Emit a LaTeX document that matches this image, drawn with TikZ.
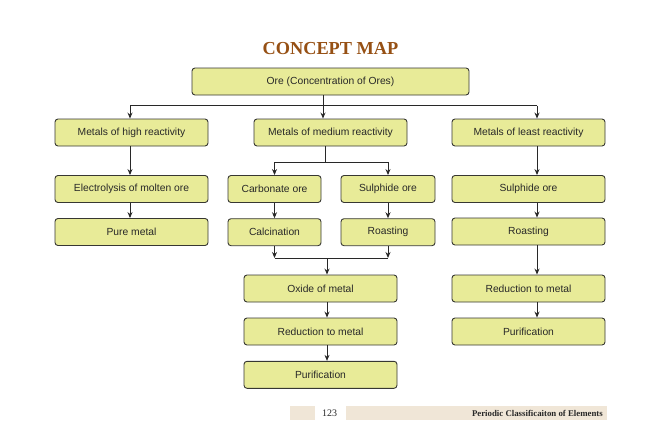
\documentclass[tikz,border=0pt]{standalone}
\usepackage{fontspec}
\setmainfont{Liberation Serif}
\setsansfont{Liberation Sans}
\usetikzlibrary{arrows.meta,positioning,calc}
\definecolor{boxfill}{RGB}{232,235,152}
\definecolor{boxline}{RGB}{55,55,50}
\definecolor{ink}{RGB}{40,40,40}
\definecolor{titlebrown}{RGB}{150,80,20}
\definecolor{beige}{RGB}{240,230,215}
\tikzset{
  concept/.style = {rounded corners=3pt, draw=boxline, fill=boxfill, text=ink,
                    line width=0.9pt, minimum height=27pt, inner sep=2pt,
                    font=\sffamily\fontsize{10.3}{12}\selectfont},
  wide/.style    = {concept, minimum width=153pt},
  flow/.style    = {-{Stealth[length=6pt,width=5pt]}, draw=ink, line width=0.9pt},
  wire/.style    = {draw=ink, line width=0.9pt},
}

\begin{document}
\begin{tikzpicture}[x=1pt,y=-1pt]
\useasboundingbox (0,0) rectangle (663,436);
% Title and root
\node[font=\fontsize{18.3}{20}\selectfont\bfseries, text=titlebrown] (title) at (330.5,49) {CONCEPT MAP};
\node[concept, minimum width=277pt] (ore) at (330.5,81.5) {Ore (Concentration of Ores)};

% Reactivity classes
\node[wide] (high) at (131.5,132.5) {Metals of high reactivity};
\node[wide] (medium) at (330.5,132.5) {Metals of medium reactivity};
\node[wide] (least) at (528.5,132.5) {Metals of least reactivity};

% High reactivity
\node[wide, below=28.6pt of high] (electro) {Electrolysis of molten ore};
\node[wide, below=15.1pt of electro] (pure) {Pure metal};

% Medium reactivity
\node[concept, minimum width=93pt] (carb) at (274.5,189) {Carbonate ore};
\node[concept, minimum width=94pt] (msul) at (388,189) {Sulphide ore};
\node[concept, minimum width=93pt, below=15.3pt of carb] (calc) {Calcination};
\node[concept, minimum width=94pt, below=15.3pt of msul] (mroast) {Roasting};
\node[wide] (oxide) at (320.5,288.5) {Oxide of metal};
\node[wide, below=15.1pt of oxide] (mred) {Reduction to metal};
\node[wide, below=15.4pt of mred] (mpur) {Purification};

% Least reactivity
\node[wide, below=28.6pt of least] (rsul) {Sulphide ore};
\node[wide, below=14.6pt of rsul] (rroast) {Roasting};
\node[wide, below=29.1pt of rroast] (rred) {Reduction to metal};
\node[wide, below=15.1pt of rred] (rpur) {Purification};

% Trunk lines
\coordinate (ltrunk) at (130,0);
\coordinate (rtrunk) at (537,0);
\coordinate (hub) at (323,105.5);
\coordinate (msplit) at (325,162);
\coordinate (mjoin) at (327,258);

\draw[wire] (ore.south -| hub) -- (hub);
\draw[wire] (hub -| ltrunk) -- (hub -| rtrunk);
\draw[flow] (hub -| ltrunk) -- (high.north -| ltrunk);
\draw[flow] (hub) -- (medium.north -| hub);
\draw[flow] (hub -| rtrunk) -- (least.north -| rtrunk);

\draw[flow] (high.south -| ltrunk) -- (electro.north -| ltrunk);
\draw[flow] (electro.south -| ltrunk) -- (pure.north -| ltrunk);

\draw[wire] (medium.south -| msplit) -- (msplit);
\draw[wire] (msplit -| carb.north) -- (msplit -| msul.north);
\draw[flow] (msplit -| carb.north) -- (carb.north);
\draw[flow] (msplit -| msul.north) -- (msul.north);
\draw[flow] (carb) -- (calc);
\draw[flow] (msul) -- (mroast);
\draw[flow] (calc) -- (calc |- mjoin);
\draw[flow] (mroast) -- (mroast |- mjoin);
\draw[wire] (calc |- mjoin) -- (mroast |- mjoin);
\draw[flow] (mjoin) -- (oxide.north -| mjoin);
\draw[flow] (oxide.south -| mjoin) -- (mred.north -| mjoin);
\draw[flow] (mred.south -| mjoin) -- (mpur.north -| mjoin);

\draw[flow] (least.south -| rtrunk) -- (rsul.north -| rtrunk);
\draw[flow] (rsul.south -| rtrunk) -- (rroast.north -| rtrunk);
\draw[flow] (rroast.south -| rtrunk) -- (rred.north -| rtrunk);
\draw[flow] (rred.south -| rtrunk) -- (rpur.north -| rtrunk);

% Footer
\node[fill=beige, minimum width=25pt, minimum height=14pt, inner sep=0pt] (pagetab) at (302.5,413) {};
\node[font=\fontsize{10}{12}\selectfont, text=ink] (pageno) at (329.5,413) {123};
\node[fill=beige, minimum width=261pt, minimum height=14pt, inner sep=0pt] (runhead) at (476.5,413) {};
\node[anchor=east, inner sep=0pt, font=\fontsize{8.8}{10}\selectfont\bfseries, text=ink] (chapter) at (603,413.5) {Periodic Classificaiton of Elements};
\end{tikzpicture}
\end{document}
